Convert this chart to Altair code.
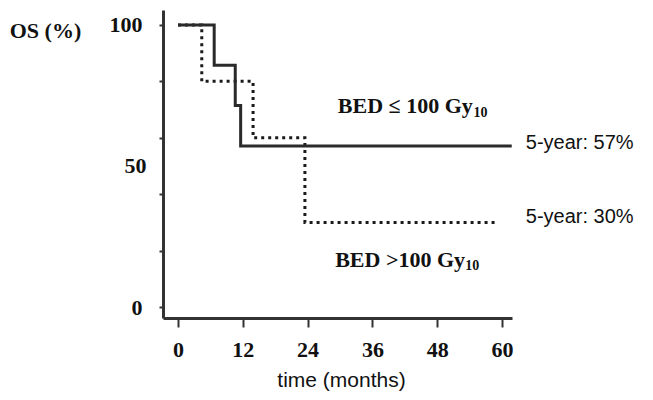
import altair as alt
import pandas as pd

# Kaplan-Meier curves (months, OS %)
solid_t = [0, 6.7, 10.6, 11.6, 61.8]
solid_s = [100, 85.7, 71.4, 57.1, 57.1]
dotted_t = [0, 4.4, 13.9, 23.5, 59.3]
dotted_s = [100, 80, 60, 30, 30]

# annotations
main_text = ["BED \u2264 100 Gy", "BED >100 Gy"]
main_x = [29.6, 29.1]
main_y = [68.8, 14.2]
sub_text = ["10", "10"]
sub_x = [54.7, 53.2]
sub_y = [67.4, 13.2]
five_text = ["5-year: 57%", "5-year: 30%"]
five_x = [64.4, 64.4]
five_y = [58.2, 31.9]

x_ticks = list(range(0, 61, 3))
y_ticks = [0, 20, 40, 50, 60, 80, 100]

solid = pd.DataFrame({"t": solid_t, "s": solid_s})
dotted = pd.DataFrame({"t": dotted_t, "s": dotted_s})
main_df = pd.DataFrame({"x": main_x, "y": main_y, "label": main_text})
sub_df = pd.DataFrame({"x": sub_x, "y": sub_y, "label": sub_text})
five_df = pd.DataFrame({"x": five_x, "y": five_y, "label": five_text})

xscale = alt.Scale(domain=[-2.78, 61.85], nice=False, zero=False)
yscale = alt.Scale(domain=[-3.9, 105.3], nice=False, zero=False)

x_axis = alt.Axis(
    values=x_ticks,
    labelExpr="datum.value % 12 === 0 ? datum.label : ''",
    tickSize={"condition": {"test": "datum.value % 12 === 0", "value": 9}, "value": 5},
    tickWidth=2, tickColor="#333",
    domainColor="#333", domainWidth=3,
    labelFont="Liberation Serif", labelFontWeight="bold", labelFontSize=22,
    labelColor="#111", labelPadding=12,
    grid=False,
    title="time (months)",
    titleFont="Liberation Sans", titleFontWeight="normal", titleFontSize=21,
    titleColor="#111", titleX=178, titleY=62, titleBaseline="middle", titleAlign="center",
)
y_axis = alt.Axis(
    values=y_ticks,
    labelExpr="(datum.value === 0 || datum.value === 50 || datum.value === 100) ? datum.label : ''",
    tickSize={"condition": {"test": "datum.value === 50", "value": 0}, "value": 4},
    tickWidth=2, tickColor="#333",
    domainColor="#333", domainWidth=3,
    labelFont="Liberation Serif", labelFontWeight="bold", labelFontSize=22,
    labelColor="#111", labelPadding=17,
    grid=False,
    title="OS (%)",
    titleFont="Liberation Serif", titleFontWeight="bold", titleFontSize=22,
    titleColor="#111", titleAngle=0, titleX=-118, titleY=20,
    titleBaseline="middle", titleAlign="center",
)

solid_line = alt.Chart(solid).mark_line(
    interpolate="step-after", color="#2a2a2a", strokeWidth=3
).encode(
    x=alt.X("t:Q", scale=xscale, axis=x_axis),
    y=alt.Y("s:Q", scale=yscale, axis=y_axis),
)
dotted_line = alt.Chart(dotted).mark_line(
    interpolate="step-after", color="#1a1a1a", strokeWidth=3, strokeDash=[3, 4], strokeCap="butt"
).encode(
    x=alt.X("t:Q", scale=xscale),
    y=alt.Y("s:Q", scale=yscale),
)
main_lbl = alt.Chart(main_df).mark_text(
    align="left", baseline="alphabetic", font="Liberation Serif", fontWeight="bold",
    fontSize=22, color="#111"
).encode(x=alt.X("x:Q", scale=xscale), y=alt.Y("y:Q", scale=yscale), text="label:N")
sub_lbl = alt.Chart(sub_df).mark_text(
    align="left", baseline="alphabetic", font="Liberation Serif", fontWeight="bold",
    fontSize=14, color="#111"
).encode(x=alt.X("x:Q", scale=xscale), y=alt.Y("y:Q", scale=yscale), text="label:N")
five_lbl = alt.Chart(five_df).mark_text(
    align="left", baseline="middle", font="Liberation Sans", fontSize=20, color="#111"
).encode(x=alt.X("x:Q", scale=xscale), y=alt.Y("y:Q", scale=yscale), text="label:N")

chart = alt.layer(dotted_line, solid_line, main_lbl, sub_lbl, five_lbl).properties(
    width=349, height=308,
    autosize=alt.AutoSizeParams(type="none"),
    padding={"left": 155, "top": 2, "right": 130, "bottom": 74},
    background="white",
).configure_view(stroke=None)

chart.save("out.html", embed_options={"renderer": "svg", "actions": False})
